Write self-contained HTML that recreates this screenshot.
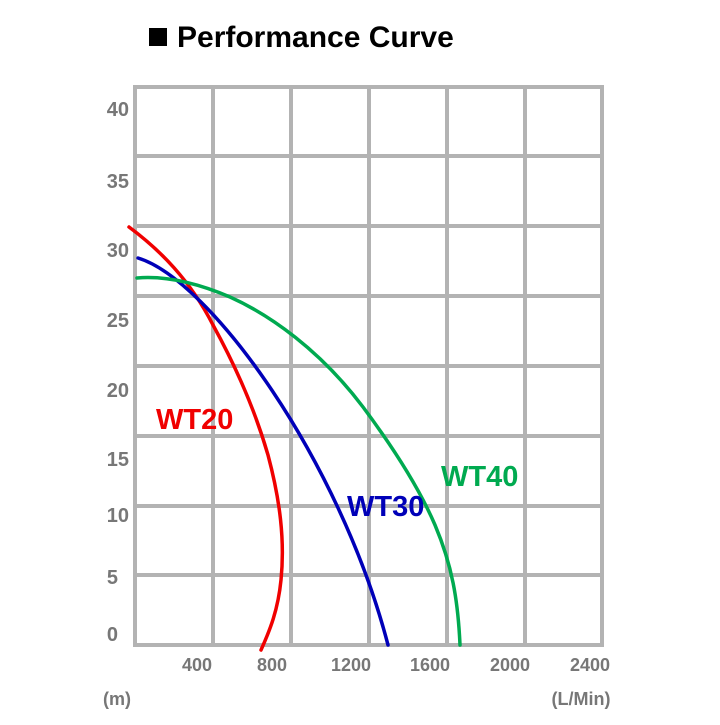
<!DOCTYPE html>
<html><head><style>
body{margin:0;background:#fff;}
svg text{font-family:"Liberation Sans",Arial,sans-serif;font-weight:bold;}
</style></head><body>
<svg width="720" height="720" viewBox="0 0 720 720" xmlns="http://www.w3.org/2000/svg">
<rect x="0" y="0" width="720" height="720" fill="#fff"/>
<rect x="149" y="28" width="18" height="18" fill="#000"/>
<text x="177" y="47" font-size="30" fill="#000">Performance Curve</text>
<g stroke="#b3b3b3" stroke-width="4" fill="none">
<line x1="135" y1="87" x2="135" y2="645"/>
<line x1="213" y1="87" x2="213" y2="645"/>
<line x1="291" y1="87" x2="291" y2="645"/>
<line x1="369" y1="87" x2="369" y2="645"/>
<line x1="447" y1="87" x2="447" y2="645"/>
<line x1="525" y1="87" x2="525" y2="645"/>
<line x1="602" y1="87" x2="602" y2="645"/>
<line x1="133" y1="87" x2="604" y2="87"/>
<line x1="133" y1="156" x2="604" y2="156"/>
<line x1="133" y1="226" x2="604" y2="226"/>
<line x1="133" y1="296" x2="604" y2="296"/>
<line x1="133" y1="366" x2="604" y2="366"/>
<line x1="133" y1="436" x2="604" y2="436"/>
<line x1="133" y1="506" x2="604" y2="506"/>
<line x1="133" y1="575" x2="604" y2="575"/>
<line x1="133" y1="645" x2="604" y2="645"/>
</g>
<g font-size="20" fill="#777" text-anchor="end">
<text x="129" y="116">40</text>
<text x="129" y="188">35</text>
<text x="129" y="257">30</text>
<text x="129" y="327">25</text>
<text x="129" y="397">20</text>
<text x="129" y="466">15</text>
<text x="129" y="522">10</text>
<text x="118" y="584">5</text>
<text x="118" y="641">0</text>
</g>
<g font-size="18" fill="#777" text-anchor="middle">
<text x="197" y="671">400</text>
<text x="272" y="671">800</text>
<text x="351" y="671">1200</text>
<text x="430" y="671">1600</text>
<text x="510" y="671">2000</text>
<text x="590" y="671">2400</text>
<text x="117" y="705">(m)</text>
<text x="581" y="705">(L/Min)</text>
</g>
<g fill="none" stroke-width="3.5" stroke-linecap="round">
<path stroke="#f00000" d="M129,227 C160,250 190,280 213,325 C235,365 255,410 268,455 C280,500 285,540 281,580 C278,610 270,630 261,650"/>
<path stroke="#0000b8" d="M138,258 C210,280 340,460 388,645"/>
<path stroke="#00aa50" d="M137,278 C160,276 190,280 230,297 C270,315 320,350 363,407 C395,450 420,490 435,525 C452,565 458,600 460,645"/>
</g>
<text x="156" y="429" font-size="29" fill="#f00000">WT20</text>
<text x="347" y="516" font-size="29" fill="#0000b8">WT30</text>
<text x="441" y="486" font-size="29" fill="#00aa50">WT40</text>
</svg>
</body></html>
